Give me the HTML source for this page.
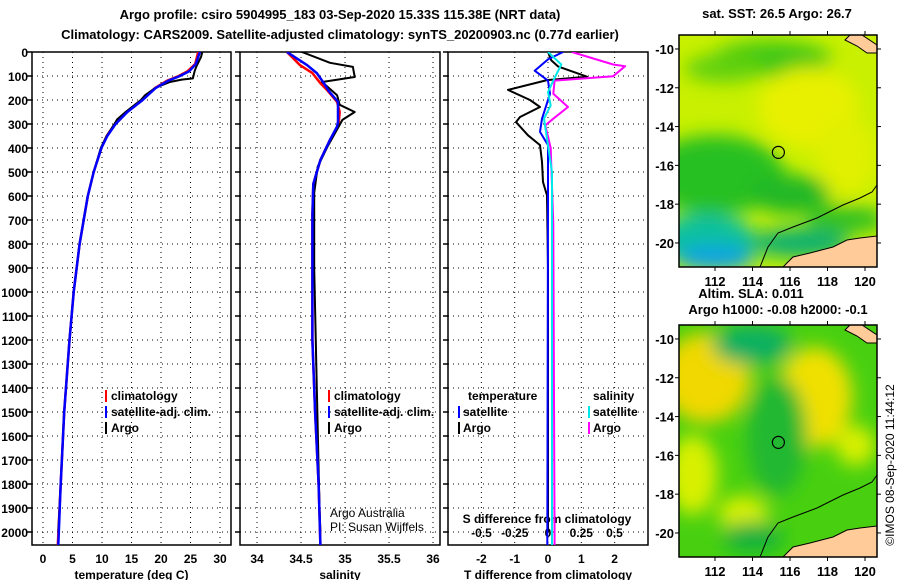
<!DOCTYPE html>
<html><head><meta charset="utf-8">
<style>
body{margin:0;background:#fff;}
svg{display:block;font-family:"Liberation Sans",sans-serif;}
.b{font-weight:bold;font-size:13px;}
.t{font-weight:bold;font-size:12px;}
</style></head>
<body>
<svg id="c" width="900" height="580" viewBox="0 0 900 580">
<defs>
<filter id="bl" x="-50%" y="-50%" width="200%" height="200%"><feGaussianBlur stdDeviation="9"/></filter>
<clipPath id="m1"><rect x="679" y="35" width="198" height="232"/></clipPath>
<clipPath id="m2"><rect x="679" y="325" width="198" height="232"/></clipPath>
<clipPath id="p1"><rect x="32" y="52" width="199" height="493"/></clipPath>
<clipPath id="p2"><rect x="240" y="52" width="200" height="493"/></clipPath>
<clipPath id="p3"><rect x="448" y="52" width="200" height="493"/></clipPath>
</defs>
<text class="b" x="340" y="19" text-anchor="middle">Argo profile: csiro 5904995_183 03-Sep-2020 15.33S 115.38E (NRT data)</text>
<text class="b" x="340" y="39" text-anchor="middle">Climatology: CARS2009. Satellite-adjusted climatology: synTS_20200903.nc (0.77d earlier)</text>
<g id="panels"></g>
<g id="maps"></g>
</svg>
<script>
// ---- data ----
const tempDepths = [0,50,80,100,120,150,200,250,300,350,400,500,600,700,800,1000,1200,1500,1800,2055];
const tempClim   = [26.3,25.8,24.5,23,21,19,16.8,14.2,12.2,10.8,9.9,8.6,7.6,6.9,6.2,5.2,4.5,3.6,3.0,2.5];
const tempSat    = [26.6,25.9,24.8,23.2,21.2,19.1,16.9,14.3,12.3,10.9,9.9,8.6,7.6,6.9,6.2,5.2,4.5,3.6,3.0,2.6];
const argoDepths = [0,20,60,80,110,115,125,150,180,200,250,280,300,350,400,500,600,700,800,1000,1200,1500,1800,2000];
const tempArgo   = [27,26.8,26,25.7,25.4,23.5,21.5,19,17.3,16.6,14,12.6,12.1,10.8,9.8,8.6,7.6,6.9,6.2,5.2,4.5,3.6,3.0,2.6];
const salDepths  = [0,55,88,130,160,208,250,290,310,366,450,550,680,1200,1500,1800,2055];
const salClim    = [34.34,34.49,34.63,34.72,34.8,34.91,34.94,34.93,34.92,34.83,34.72,34.64,34.63,34.63,34.66,34.7,34.72];
const salSat     = [34.34,34.57,34.68,34.76,34.81,34.92,34.92,34.92,34.91,34.83,34.72,34.64,34.63,34.63,34.66,34.7,34.72];
const salArgoDepths = [0,45,62,104,125,180,220,250,283,310,395,478,587,900,1400,1900,2000];
const salArgo    = [34.51,34.83,35.09,35.11,34.74,34.91,34.94,35.11,34.97,34.93,34.8,34.69,34.65,34.65,34.68,34.71,34.72];
const dTDepths   = [0,35,60,103,117,158,200,229,271,292,347,388,458,542,597,900,2000];
const dTArgo     = [0,0.1,0.3,1.17,-0.03,-1.2,-0.54,-0.24,-0.84,-0.96,-0.6,-0.24,-0.18,-0.15,-0.03,0,0];
const dTSatDepths= [0,31,78,119,174,278,333,388,600,2055];
const dTSat      = [0.45,0,-0.4,0,0.06,-0.18,-0.24,0,0,-0.02];
const dSDepths   = [0,52,59,101,119,174,229,278,306,400,719,2055];
const dSArgo     = [0.18,0.49,0.58,0.49,0.05,0.04,0.15,0.04,-0.02,0.02,0.04,0.05];
const dSSatDepths= [0,52,119,167,222,278,500,2055];
const dSSat      = [0,0.1,0.04,0,0.02,-0.03,0.03,0.03];
const depthTicks = [0,100,200,300,400,500,600,700,800,900,1000,1100,1200,1300,1400,1500,1600,1700,1800,1900,2000];
const tempTicks = [0,5,10,15,20,25,30];
const salTicks = [34,34.5,35,35.5,36];
const salTickLabels = ["34","34.5","35","35.5","36"];
const dTTicks = [-2,-1,0,1,2];
const dSTicks = [-0.5,-0.25,0,0.25,0.5];
const dSTickLabels = ["-0.5","-0.25","0","0.25","0.5"];
const lonTicks = [112,114,116,118,120];
const latTicks = [-10,-12,-14,-16,-18,-20];

const NS='http://www.w3.org/2000/svg';
const yD = d => 52 + d*0.24;
const xT = v => 43 + v*5.9;
const xS = v => 257 + (v-34)*88;
const xDT = v => 548 + v*33.3;
const xDS = v => 548 + v*133;
const lonX = v => 679 + (v-110.08)*18.75;
const latY = (v,off) => off + (-9.28 - v)*19.4;

function mk(tag, attrs, parent){const e=document.createElementNS(NS,tag);for(const k in attrs)e.setAttribute(k,attrs[k]);parent.appendChild(e);return e;}
const P=document.getElementById('panels');

function panel(x0,x1,name,xs,ticks,labels,xlabel){
  const g=mk('g',{},P);
  
  
  ticks.forEach((t,i)=>{
    const gl=mk('line',{x1:xs(t),x2:xs(t),y1:52,y2:545,stroke:'#000','stroke-width':1,'stroke-dasharray':'1,4'},g);
    
    
    if(labels){
      const tx=mk('text',{x:xs(t),y:563,'text-anchor':'middle','class':'t'},g);
      tx.textContent=labels[i];
      
      
    }
  });
  depthTicks.forEach(d=>{
    const gl=mk('line',{x1:x0,x2:x1,y1:yD(d),y2:yD(d),stroke:'#000','stroke-width':1,'stroke-dasharray':'1,4'},g);
    
    
    mk('line',{x1:x0-5,x2:x0,y1:yD(d),y2:yD(d),stroke:'#000','stroke-width':1.5},g);
  });
  const r=mk('rect',{x:x0,y:52,width:x1-x0,height:493,fill:'none',stroke:'#000','stroke-width':1.5},g);
  
  
  const xl=mk('text',{x:(x0+x1)/2,y:579,'text-anchor':'middle','class':'t'},g);
  xl.textContent=xlabel;
  
  
  return g;
}
function line(g,depths,vals,xs,color,w,name,clip){
  const pts=depths.map((d,i)=>xs(vals[i]).toFixed(1)+','+yD(d).toFixed(1)).join(' ');
  const pl=mk('polyline',{points:pts,fill:'none',stroke:color,'stroke-width':w,'stroke-linejoin':'round','clip-path':'url(#'+clip+')'},g);
  
  
}
function txt(g,x,y,s,name,cls,anchor){
  const t=mk('text',{x:x,y:y,'class':cls||'t','text-anchor':anchor||'start'},g);
  t.textContent=s;
  
  
  return t;
}
function bar(g,x,y,color,name){
  const r=mk('rect',{x:x,y:y-10,width:2,height:12,fill:color},g);
  
  
}

// panel 1
const g1=panel(32,231,'temperature-panel',xT,tempTicks,tempTicks.map(String),'temperature (deg C)');
depthTicks.forEach(d=>txt(g1,28,yD(d)+5,String(d),'y-tick-label','t','end'));
line(g1,tempDepths,tempClim,xT,'#ff0000',2.5,'temp-climatology-line','p1');
line(g1,argoDepths,tempArgo,xT,'#000',2,'temp-argo-line','p1');
line(g1,tempDepths,tempSat,xT,'#0000ff',2.5,'temp-satellite-line','p1');
bar(g1,105,400,'#ff0000','legend-climatology-swatch');txt(g1,111,400,'climatology','legend-climatology');
bar(g1,105,416,'#0000ff','legend-satellite-swatch');txt(g1,111,416,'satellite-adj. clim.','legend-satellite');
bar(g1,105,432,'#000','legend-argo-swatch');txt(g1,111,432,'Argo','legend-argo');

// panel 2
const g2=panel(240,440,'salinity-panel',xS,salTicks,salTickLabels,'salinity');
line(g2,salDepths,salClim,xS,'#ff0000',2.5,'sal-climatology-line','p2');
line(g2,salArgoDepths,salArgo,xS,'#000',2,'sal-argo-line','p2');
line(g2,salDepths,salSat,xS,'#0000ff',2.5,'sal-satellite-line','p2');
bar(g2,328,400,'#ff0000','legend-climatology-swatch');txt(g2,334,400,'climatology','legend-climatology');
bar(g2,328,416,'#0000ff','legend-satellite-swatch');txt(g2,334,416,'satellite-adj. clim.','legend-satellite');
bar(g2,328,432,'#000','legend-argo-swatch');txt(g2,334,432,'Argo','legend-argo');
const ca=txt(g2,330,517,'Argo Australia','credit-argo-australia','t');ca.setAttribute('style','font-weight:normal;font-size:12px');
const cb=txt(g2,330,531,'PI: Susan Wijffels','credit-pi','t');cb.setAttribute('style','font-weight:normal;font-size:12px');

// panel 3
const g3=panel(448,648,'difference-panel',xDT,dTTicks,dTTicks.map(String),'T difference from climatology');
dSTicks.forEach((t,i)=>txt(g3,xDS(t),537,dSTickLabels[i],'s-diff-tick-label','t','middle'));
txt(g3,547,523,'S difference from climatology','s-diff-axis-title','t','middle');
line(g3,dTDepths,dTArgo,xDT,'#000',2,'t-diff-argo-line','p3');
line(g3,dTSatDepths,dTSat,xDT,'#0000ff',2,'t-diff-satellite-line','p3');
line(g3,dSDepths,dSArgo,xDS,'#ff00ff',2,'s-diff-argo-line','p3');
line(g3,dSSatDepths,dSSat,xDS,'#00e8e8',2,'s-diff-satellite-line','p3');
txt(g3,468,400,'temperature','legend-temperature-heading');
txt(g3,593,400,'salinity','legend-salinity-heading');
bar(g3,458,416,'#0000ff','legend-t-satellite-swatch');txt(g3,463,416,'satellite','legend-t-satellite');
bar(g3,458,432,'#000','legend-t-argo-swatch');txt(g3,463,432,'Argo','legend-t-argo');
bar(g3,588,416,'#00e8e8','legend-s-satellite-swatch');txt(g3,593,416,'satellite','legend-s-satellite');
bar(g3,588,432,'#ff00ff','legend-s-argo-swatch');txt(g3,593,432,'Argo','legend-s-argo');

// ---- maps ----
const M=document.getElementById('maps');
const sstBlobs=[[115,-10.5,60,18,'#40c818'],[112.5,-11,40,14,'#60d010'],[112,-16.5,70,40,'#28c020'],[116,-17.5,40,20,'#20b828'],[117,-13,50,40,'#e8f000'],[119,-15.5,30,40,'#e0f000'],[111.5,-19.8,50,25,'#10c0a0'],[112,-20.8,40,12,'#10a0e8'],[116.5,-20,50,15,'#10b070'],[119,-18.8,40,14,'#30c020']];
const slaBlobs=[[111.5,-12,45,45,'#f0d800'],[117.3,-13,38,50,'#f0e000'],[110.8,-17,25,40,'#d8f000'],[113.5,-19,25,18,'#d8f000'],[119.5,-15.5,20,20,'#d8f000'],[114,-10.3,40,20,'#10b060'],[114,-20.2,30,15,'#10b040'],[115.3,-15,30,60,'#20b830']];
function map(off,clip,base,blobs,name,title){
  const g=mk('g',{},M);
  
  
  const cg=mk('g',{'clip-path':'url(#'+clip+')'},g);
  mk('rect',{x:679,y:off,width:198,height:232,fill:base},cg);
  const bg=mk('g',{filter:'url(#bl)'},cg);
  blobs.forEach(b=>mk('ellipse',{cx:lonX(b[0]),cy:latY(b[1],off),rx:b[2],ry:b[3],fill:b[4]},bg));
  const land='M783,'+(off+232)+' L793,'+(off+222)+' L810,'+(off+218)+' L833,'+(off+212)+' L847,'+(off+205)+' L860,'+(off+203)+' L877,'+(off+201)+' L877,'+(off+232)+' Z';
  const l1=mk('path',{d:land,fill:'#ffcc99',stroke:'#000','stroke-width':1},cg);
  
  
  const l2=mk('path',{d:'M845,'+(off+5)+' L850,'+(off)+' L862,'+(off)+' L877,'+(off+10)+' L877,'+(off+18)+' L867,'+(off+18)+' L857,'+(off+11)+' Z',fill:'#ffcc99',stroke:'#000','stroke-width':1},cg);
  
  
  const ct=mk('polyline',{points:[[760,232],[768,212],[778,198],[793,192],[817,183],[843,170],[860,163],[872,157],[877,150]].map(p=>p[0]+','+(p[1]+off)).join(' '),fill:'none',stroke:'#000','stroke-width':1},cg);
  
  
  const c=mk('circle',{cx:lonX(115.38),cy:latY(-15.33,off),r:6,fill:'none',stroke:'#000','stroke-width':1.2},g);
  
  
  const fr=mk('rect',{x:679,y:off,width:198,height:232,fill:'none',stroke:'#000','stroke-width':1.5},g);
  
  
  lonTicks.forEach(v=>{
    mk('line',{x1:lonX(v),x2:lonX(v),y1:off-4,y2:off,stroke:'#000'},g);
    mk('line',{x1:lonX(v),x2:lonX(v),y1:off+232,y2:off+236,stroke:'#000'},g);
    txt(g,lonX(v),off+251,String(v),'lon-tick-label','b','middle');
  });
  latTicks.forEach(v=>{
    mk('line',{x1:877,x2:881,y1:latY(v,off),y2:latY(v,off),stroke:'#000'},g);
    mk('line',{x1:675,x2:679,y1:latY(v,off),y2:latY(v,off),stroke:'#000'},g);
    txt(g,674,latY(v,off)+5,String(v),'lat-tick-label','b','end');
  });
  title.forEach(t=>txt(g,t[0],t[1],t[2],t[3],'b','middle'));
}
map(35,'m1','#c8f000',sstBlobs,'sst-map',[[777,18,'sat. SST: 26.5 Argo: 26.7','sst-map-title']]);
map(325,'m2','#48d010',slaBlobs,'sla-map',[[751,298,'Altim. SLA: 0.011','sla-title'],[778,314,'Argo h1000: -0.08 h2000: -0.1','sla-map-title']]);
const cr=txt(M,0,0,'©IMOS 08-Sep-2020 11:44:12','imos-credit','t','middle');
cr.setAttribute('transform','translate(894,465) rotate(-90)');
cr.setAttribute('style','font-weight:normal;font-size:12px');
</script>
</body></html>
